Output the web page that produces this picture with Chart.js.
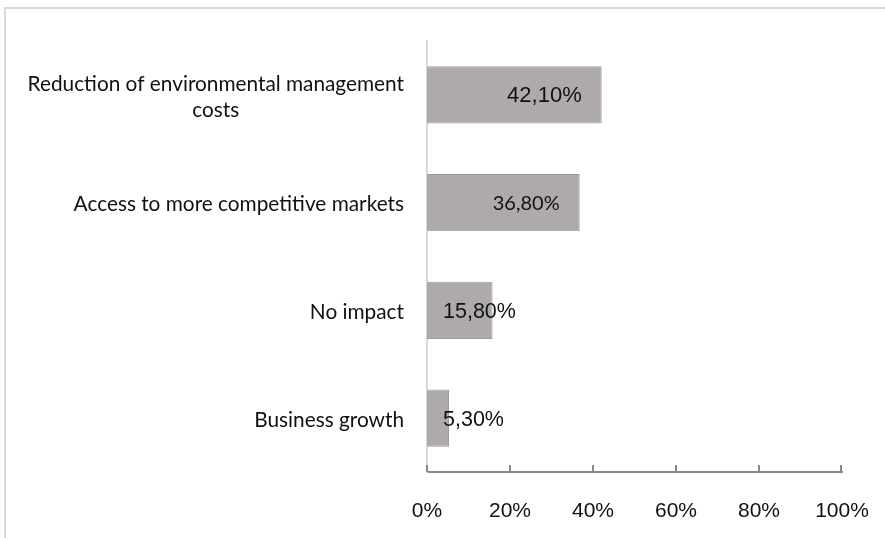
<!DOCTYPE html>
<html>
<head>
<meta charset="utf-8">
<script src="https://cdn.jsdelivr.net/npm/chart.js@4.4.1/dist/chart.umd.min.js"></script>
<style>
  body { margin: 0; background: #fff; overflow: hidden; }
  #wrap { position: relative; width: 885px; height: 538px; }
  #frame { position: absolute; left: 4px; top: 7px; width: 900px; height: 600px;
           border: 2px solid #d9d9d9; box-sizing: border-box; }
  canvas { position: absolute; left: 0; top: 0; }
</style>
</head>
<body>
<div id="wrap">
  <div id="frame"></div>
  <canvas id="impactChart" width="885" height="538"></canvas>
</div>
<script>
// Impact of environmental certification (share of answers)
const categories = [
  ["Reduction of environmental management", "costs"],
  ["Access to more competitive markets"],
  ["No impact"],
  ["Business growth"]
];
const shares = [42.1, 36.8, 15.8, 5.3];
const valueLabels = ["42,10%", "36,80%", "15,80%", "5,30%"];
const xTicks = [0, 20, 40, 60, 80, 100];

const SANS = "'Liberation Sans', Arial, sans-serif";

// category names, drawn right-aligned; wrapped lines centred on the longest
const categoryText = {
  id: "categoryText",
  afterDraw(chart) {
    const ctx = chart.ctx;
    const y = chart.scales.y;
    const right = chart.chartArea.left - 23;
    ctx.save();
    ctx.font = "20.8px Lato";
    ctx.fillStyle = "#111";
    ctx.textBaseline = "middle";
    ctx.textAlign = "center";
    categories.forEach((lines, i) => {
      const w = Math.max(...lines.map(l => ctx.measureText(l).width));
      const cy = y.getPixelForValue(i) + 2;
      const lh = 26;
      lines.forEach((l, k) => {
        ctx.fillText(l, right - w / 2, cy + (k - (lines.length - 1) / 2) * lh);
      });
    });
    ctx.restore();
  }
};

// value labels in the bars and the small ticks standing on the x axis
const barText = {
  id: "barText",
  afterDatasetsDraw(chart) {
    const ctx = chart.ctx;
    const meta = chart.getDatasetMeta(0);
    const x = chart.scales.x;
    const area = chart.chartArea;
    const fonts = ["22px " + SANS, "20px Lato", "21.5px " + SANS, "21.5px " + SANS];
    ctx.save();
    ctx.fillStyle = "#111";
    ctx.textBaseline = "middle";
    meta.data.forEach((bar, i) => {
      ctx.font = fonts[i];
      if (i < 2) {
        ctx.textAlign = "right";
        ctx.fillText(valueLabels[i], bar.x - 20, bar.y + 1);
      } else {
        ctx.textAlign = "left";
        ctx.fillText(valueLabels[i], bar.base + 16, bar.y + 2);
      }
    });
    ctx.strokeStyle = "#898989";
    ctx.lineWidth = 2;
    xTicks.forEach(v => {
      const px = Math.round(x.getPixelForValue(v)) + (v === 100 ? -1 : 0);
      ctx.beginPath();
      ctx.moveTo(px, area.bottom);
      ctx.lineTo(px, area.bottom - 7);
      ctx.stroke();
    });
    ctx.restore();
  }
};

function draw() {
  new Chart(document.getElementById("impactChart"), {
    type: "bar",
    data: {
      labels: categories.map(c => c.join(" ")),
      datasets: [{
        data: shares,
        backgroundColor: "#aeaaa9",
        borderColor: "#a09c9b",
        borderWidth: 1,
        categoryPercentage: 1,
        barPercentage: 0.53
      }]
    },
    options: {
      indexAxis: "y",
      responsive: false,
      animation: false,
      layout: { padding: { top: 41, right: 43, left: 0, bottom: 0 } },
      plugins: { legend: { display: false }, tooltip: { enabled: false } },
      scales: {
        x: {
          min: 0,
          max: 100,
          afterBuildTicks(scale) { scale.ticks = xTicks.map(v => ({ value: v })); },
          afterFit(scale) {
            scale.height = 66;
            scale.paddingLeft = 0;
            scale.paddingRight = 0;
          },
          grid: { display: false },
          border: { display: true, color: "#898989", width: 2 },
          ticks: {
            padding: 19,
            color: "#111",
            font: { family: SANS, size: 21 },
            callback: v => v + "%",
            maxRotation: 0
          }
        },
        y: {
          afterFit(scale) { scale.width = 427; },
          grid: { display: false },
          border: { display: true, color: "#d9d9d9", width: 2 },
          ticks: { display: false }
        }
      }
    },
    plugins: [categoryText, barText]
  });
}

Promise.all([
  document.fonts.load("21px 'Liberation Sans'"),
  document.fonts.load("21px Lato")
]).then(draw, draw);
</script>
</body>
</html>
